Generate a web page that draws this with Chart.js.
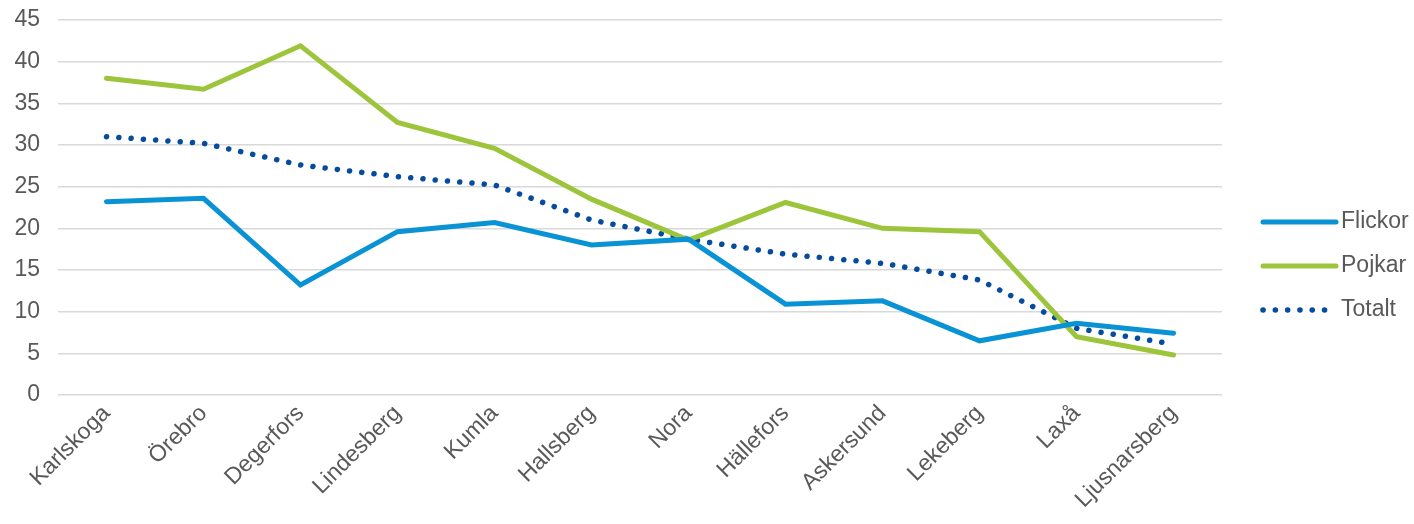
<!DOCTYPE html>
<html>
<head>
<meta charset="utf-8">
<script src="https://cdn.jsdelivr.net/npm/chart.js@4/dist/chart.umd.min.js"></script>
<style>
  html, body { margin: 0; padding: 0; background: #ffffff; }
  #wrap { width: 1414px; height: 524px; }
</style>
</head>
<body>
<div id="wrap"><canvas id="chart" width="1414" height="524"></canvas></div>
<script>
// Kommuner
const municipalities = ['Karlskoga', 'Örebro', 'Degerfors', 'Lindesberg', 'Kumla', 'Hallsberg',
    'Nora', 'Hällefors', 'Askersund', 'Lekeberg', 'Laxå', 'Ljusnarsberg'];

// Values
const flickor = [23.2, 23.6, 13.2, 19.6, 20.7, 18.0, 18.7, 10.9, 11.3, 6.5, 8.6, 7.4];
const pojkar = [38.0, 36.7, 41.9, 32.7, 29.6, 23.5, 18.6, 23.1, 20.0, 19.6, 7.0, 4.8];
const totalt = [31.0, 30.2, 27.6, 26.2, 25.2, 21.0, 18.7, 16.9, 15.8, 13.8, 8.0, 6.1];

const yMin = 0;
const yMax = 45;
const yStep = 5;

const textColor = '#595959';
const gridColor = '#d9d9d9';
const fontFamily = '"Liberation Sans", Arial, sans-serif';
const fontSize = 23;

// Legend on the right, drawn on the canvas so the spacing can match the original
const sideLegend = {
    id: 'sideLegend',
    afterDraw(chart) {
        const c = chart.ctx;
        const lineStart = chart.width - 151;
        const lineLen = 73;
        const gap = 44;
        const midY = chart.height / 2 + 4;
        const n = chart.data.datasets.length;
        c.save();
        c.font = fontSize + 'px ' + fontFamily;
        c.textBaseline = 'middle';
        c.textAlign = 'left';
        chart.data.datasets.forEach((ds, i) => {
            const y = midY + (i - (n - 1) / 2) * gap;
            c.beginPath();
            c.strokeStyle = ds.borderColor;
            c.lineWidth = ds.borderWidth;
            c.lineCap = 'round';
            c.setLineDash(ds.borderDash || []);
            c.moveTo(lineStart, y);
            c.lineTo(lineStart + lineLen, y);
            c.stroke();
            c.setLineDash([]);
            c.fillStyle = textColor;
            c.fillText(ds.label, lineStart + lineLen + 5, y);
        });
        c.restore();
    }
};

const ctx = document.getElementById('chart').getContext('2d');
new Chart(ctx, {
    type: 'line',
    data: {
        labels: municipalities,
        datasets: [
            {
                label: 'Flickor',
                data: flickor,
                borderColor: '#0993d4',
                borderWidth: 5,
                borderCapStyle: 'round',
                pointRadius: 0,
                tension: 0
            },
            {
                label: 'Pojkar',
                data: pojkar,
                borderColor: '#9cc53b',
                borderWidth: 5,
                borderCapStyle: 'round',
                pointRadius: 0,
                tension: 0
            },
            {
                label: 'Totalt',
                data: totalt,
                borderColor: '#064c9e',
                borderWidth: 5.5,
                borderCapStyle: 'round',
                borderDash: [0.1, 12.2],
                pointRadius: 0,
                tension: 0
            }
        ]
    },
    options: {
        responsive: false,
        animation: false,
        layout: { padding: { left: 0, right: 192, top: 20, bottom: 0 } },
        plugins: {
            tooltip: { enabled: false },
            legend: { display: false }
        },
        scales: {
            x: {
                offset: true,
                grid: { display: false, drawTicks: false },
                border: { display: false },
                afterFit: (scale) => { scale.height = 129; },
                ticks: {
                    color: textColor,
                    font: { family: fontFamily, size: fontSize },
                    minRotation: 45,
                    maxRotation: 45,
                    padding: 5,
                    autoSkip: false
                }
            },
            y: {
                min: yMin,
                max: yMax,
                grid: { color: gridColor, lineWidth: 1.5, drawTicks: false },
                border: { display: false },
                afterFit: (scale) => {
                    scale.width = 58;
                    scale.paddingTop = 0;
                    scale.paddingBottom = 0;
                },
                ticks: {
                    stepSize: yStep,
                    color: textColor,
                    font: { family: fontFamily, size: fontSize },
                    padding: 18
                }
            }
        }
    },
    plugins: [sideLegend]
});
</script>
</body>
</html>
